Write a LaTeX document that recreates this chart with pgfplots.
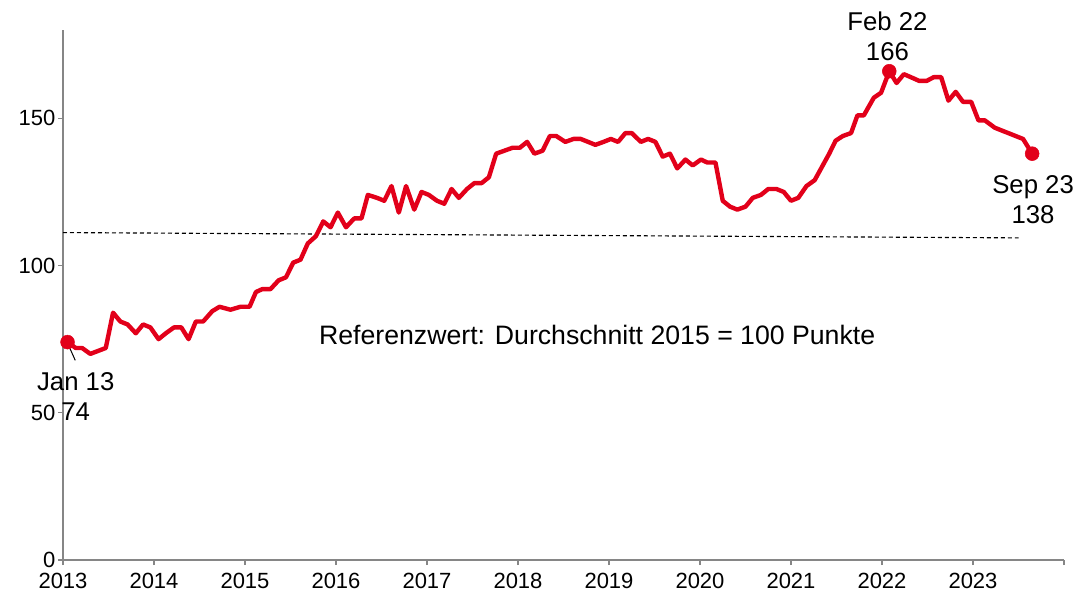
\documentclass[border=0pt]{standalone}
\usepackage{pgfplots}
\pgfplotsset{compat=1.18}
\usepackage{fontspec}
\setmainfont{Liberation Sans}
\definecolor{dbred}{RGB}{226,0,26}
\definecolor{axgray}{RGB}{134,134,134}
\begin{document}
\begin{tikzpicture}
\begin{axis}[
  scale only axis, width=750.75pt, height=397.5pt,
  xmin=2013, xmax=2024, ymin=0, ymax=180,
  axis x line*=bottom, axis y line*=left,
  axis line style={axgray, line width=0.8pt},
  xtick={2013,2014,2015,2016,2017,2018,2019,2020,2021,2022,2023,2024},
  xticklabels={2013,2014,2015,2016,2017,2018,2019,2020,2021,2022,2023,{}},
  ytick={0,50,100,150},
  tick align=outside, major tick length=3.75pt,
  tick style={axgray, line width=0.8pt},
  ticklabel style={font=\fontsize{16.5}{19}\selectfont},
  xticklabel style={yshift=-2.5pt},
  yticklabel style={xshift=1.5pt},
  /pgf/number format/assume math mode=true,
  /pgf/number format/1000 sep={},
  clip=false,
]
\addplot[black, line width=0.85pt, dash pattern=on 3pt off 2.25pt] coordinates {(2013,111.2) (2023.5,109.4)};
\addplot[dbred, line width=3.3pt, line join=round] coordinates {
(2013.05,74) (2013.14,72) (2013.21,72) (2013.30,70) (2013.47,72) (2013.55,84)
(2013.63,81) (2013.71,80) (2013.80,77) (2013.88,80) (2013.96,79) (2014.05,75)
(2014.13,77) (2014.22,79) (2014.30,79) (2014.38,75) (2014.46,81) (2014.54,81)
(2014.64,84.5) (2014.72,86) (2014.84,85) (2014.95,86) (2015.05,86) (2015.12,91)
(2015.19,92) (2015.28,92) (2015.37,95) (2015.45,96) (2015.53,101) (2015.61,102)
(2015.69,107.5) (2015.78,110) (2015.86,115) (2015.94,113) (2016.02,118) (2016.11,113)
(2016.20,116) (2016.28,116) (2016.35,124) (2016.45,123) (2016.53,122) (2016.61,127)
(2016.69,118) (2016.77,127) (2016.86,119) (2016.94,125) (2017.02,124) (2017.11,122)
(2017.19,121) (2017.27,126) (2017.35,123) (2017.44,126) (2017.52,128) (2017.60,128)
(2017.68,130) (2017.76,138) (2017.85,139) (2017.94,140) (2018.02,140) (2018.10,142)
(2018.18,138) (2018.27,139) (2018.35,144) (2018.42,144) (2018.52,142) (2018.61,143)
(2018.69,143) (2018.77,142) (2018.85,141) (2018.94,142) (2019.02,143) (2019.10,142)
(2019.18,145) (2019.25,145) (2019.35,142) (2019.43,143) (2019.51,142) (2019.59,137)
(2019.67,138) (2019.75,133) (2019.84,136) (2019.92,134) (2020.01,136) (2020.08,135)
(2020.17,135) (2020.25,122) (2020.33,120) (2020.41,119) (2020.50,120) (2020.58,123)
(2020.67,124) (2020.75,126) (2020.84,126) (2020.92,125) (2021.00,122) (2021.08,123)
(2021.17,127) (2021.26,129) (2021.34,133.5) (2021.42,138) (2021.49,142.4) (2021.57,144)
(2021.66,145) (2021.73,151) (2021.80,151) (2021.91,157) (2021.99,158.7) (2022.08,166)
(2022.16,162) (2022.24,165) (2022.33,163.8) (2022.41,162.7) (2022.49,162.7) (2022.57,164)
(2022.65,164) (2022.73,156) (2022.81,159) (2022.89,155.6) (2022.98,155.6) (2023.06,149.3)
(2023.13,149.3) (2023.24,146.8) (2023.55,143) (2023.65,138)
};
\addplot[dbred, only marks, mark=*, mark size=5.2pt] coordinates {(2013.05,74) (2022.08,166) (2023.65,138)};
\draw[black, line width=0.75pt] (axis cs:2013.058,73.1) -- (axis cs:2013.135,67.8);
\node[align=center, font=\fontsize{19.3}{22.5}\selectfont] at (axis cs:2013.14,55.4) {Jan 13\\74};
\node[align=center, font=\fontsize{19.3}{22.5}\selectfont] at (axis cs:2022.06,177.9) {Feb 22\\166};
\node[align=center, font=\fontsize{19.3}{22.5}\selectfont] at (axis cs:2023.66,122.4) {Sep 23\\138};
\node[font=\fontsize{20}{23}\selectfont] at (axis cs:2018.87,76.5) {Referenzwert: Durchschnitt 2015 = 100 Punkte};
\end{axis}
\path ([shift={(-47.25pt,-25.5pt)}]current axis.south west) rectangle ([shift={(762pt,420pt)}]current axis.south west);
\end{tikzpicture}
\end{document}
